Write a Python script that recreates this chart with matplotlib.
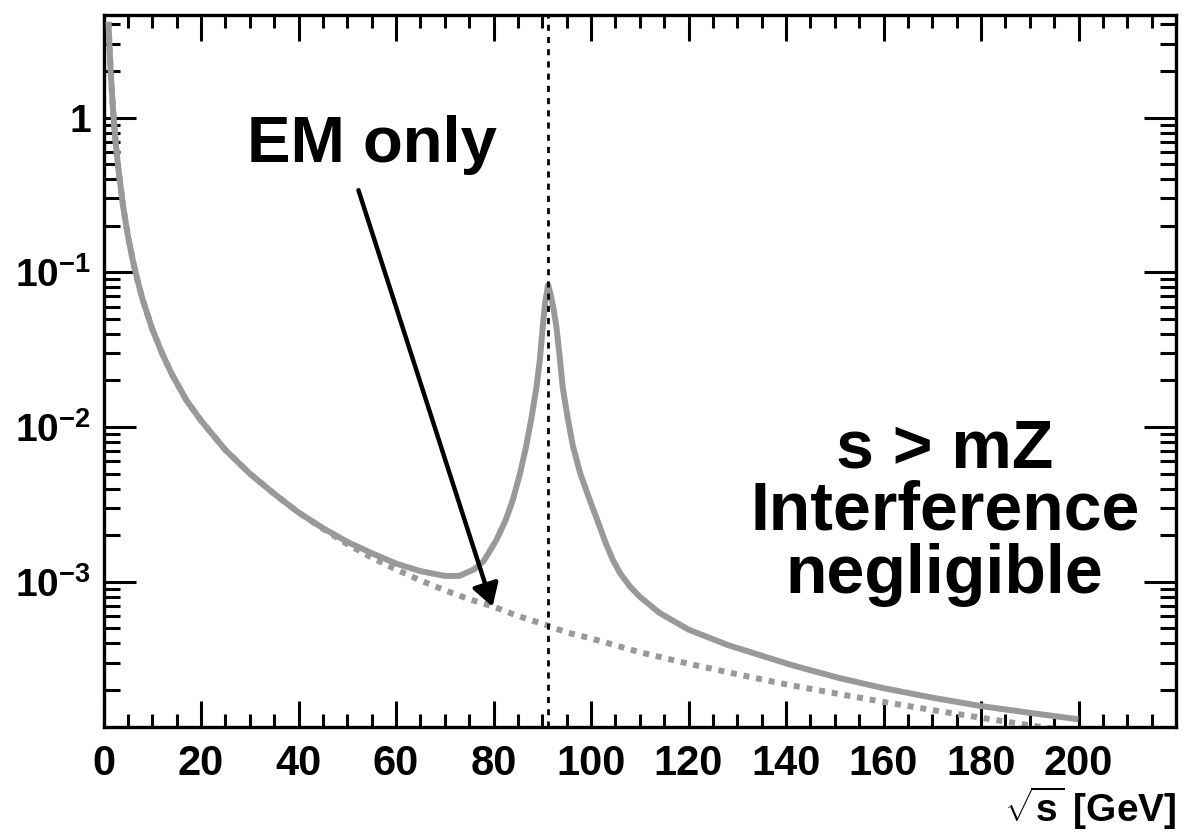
import matplotlib
matplotlib.use('Agg')
import matplotlib.pyplot as plt
from matplotlib import font_manager
from matplotlib.ticker import FixedLocator, FixedFormatter, NullFormatter

# ---------------- data ----------------
# full curve (EM + Z), sqrt(s) in GeV
full_x = [1.02, 1.2, 1.5, 2.0, 2.5, 3.0, 4.0, 5.0, 6.0, 7.0, 8.0, 10, 12, 14, 17, 20,
          25, 30, 35, 40, 45, 50, 55, 60, 65, 70, 73, 76, 78, 80.6, 82.5, 84,
          85.5, 86.7, 87.8, 88.8, 89.5, 90.1, 90.6, 91.2, 91.8, 92.4, 92.9, 93.5,
          94.2, 95.2, 96.3, 97.8, 99.7, 101.5, 103.1, 104.5, 106, 108, 110, 114,
          120, 128, 141, 151, 160, 170, 180, 190, 200]
full_y = [4.15, 3.0, 1.9, 1.07, 0.69, 0.48, 0.27, 0.172, 0.12, 0.088, 0.067, 0.043,
          0.030, 0.022, 0.0149, 0.011, 0.0071, 0.0050, 0.0037, 0.0028, 0.00222,
          0.00181, 0.00153, 0.00131, 0.00117, 0.00109, 0.00109, 0.0012, 0.00136,
          0.00186, 0.0025, 0.0034, 0.0051, 0.0075, 0.0115, 0.018, 0.027, 0.0445,
          0.064, 0.083, 0.070, 0.056, 0.0445, 0.030, 0.018, 0.0115, 0.0075,
          0.0050, 0.0034, 0.0024, 0.00175, 0.00138, 0.00113, 0.00093, 0.0008,
          0.00063, 0.00049, 0.00039, 0.00029, 0.000238, 0.000205, 0.000178,
          0.000157, 0.000142, 0.000129]

# EM only curve
em_x = [1.02, 1.2, 1.5, 2.0, 2.5, 3.0, 4.0, 5.0, 6.0, 7.0, 8.0, 10, 12, 14, 17, 20,
        25, 30, 35, 40, 45, 50, 55, 60, 65, 70, 75, 80, 85, 91.2, 95, 100, 110,
        120, 130, 140, 150, 160, 170, 180, 190, 195]
em_y = [4.15, 3.0, 1.9, 1.07, 0.69, 0.48, 0.27, 0.172, 0.12, 0.088, 0.067, 0.043,
        0.030, 0.022, 0.0149, 0.011, 0.0071, 0.0050, 0.0037, 0.0028, 0.0022,
        0.00175, 0.00143, 0.0012, 0.00102, 0.00088, 0.00077, 0.00069, 0.0006,
        0.00052, 0.00047, 0.00043, 0.00035, 0.000295, 0.000252, 0.000217,
        0.00019, 0.000167, 0.000148, 0.000132, 0.000118, 0.000112]

mz = 91.19
x_ticks = [0, 20, 40, 60, 80, 100, 120, 140, 160, 180, 200]
x_ticklabels = [str(v) for v in x_ticks]
y_ticks = [1e-3, 1e-2, 1e-1, 1]
y_ticklabels = [r'$10^{-3}$', r'$10^{-2}$', r'$10^{-1}$', '1']
arrow_from = (52.3, 0.339)
arrow_to = (79.8, 6.89e-4)

# ---------------- fonts ----------------
names = {f.name for f in font_manager.fontManager.ttflist}
NARROW = 'Liberation Sans Narrow' if 'Liberation Sans Narrow' in names else 'Liberation Sans'
WIDE = 'Liberation Sans'
plt.rcParams['font.family'] = [NARROW, 'DejaVu Sans']
plt.rcParams['font.weight'] = 'bold'
plt.rcParams['mathtext.fontset'] = 'custom'
plt.rcParams['mathtext.rm'] = NARROW + ':bold'
plt.rcParams['mathtext.bf'] = NARROW + ':bold'
plt.rcParams['mathtext.it'] = NARROW + ':bold'
plt.rcParams['mathtext.default'] = 'rm'

W, H = 1184, 832
fig = plt.figure(figsize=(W / 100, H / 100), dpi=100)
L, R, T, B = 103.5, 1176.0, 15.0, 727.0
ax = fig.add_axes([L / W, 1 - B / H, (R - L) / W, (B - T) / H])

gray = '#999999'
ax.plot(em_x, em_y, color=gray, lw=4.3, linestyle=(0, (1.0, 1.15)),
        dash_capstyle='butt', zorder=2)
ax.plot(full_x, full_y, color=gray, lw=4.3, solid_joinstyle='round',
        solid_capstyle='butt', zorder=3)
ax.axvline(mz, color='black', lw=2.0, linestyle=(0, (2.2, 2.2)), zorder=4)

ax.set_xlim(0, 220)
ax.set_yscale('log')
ax.set_ylim(1.15e-4, 4.6)

ax.xaxis.set_major_locator(FixedLocator(x_ticks))
ax.xaxis.set_major_formatter(FixedFormatter(x_ticklabels))
ax.xaxis.set_minor_locator(FixedLocator([v for v in range(0, 221, 5) if v % 20 != 0]))
ax.yaxis.set_major_locator(FixedLocator(y_ticks))
ax.yaxis.set_major_formatter(FixedFormatter(y_ticklabels))
minors = []
for d in [1e-4, 1e-3, 1e-2, 1e-1, 1]:
    for k in range(2, 10):
        minors.append(k * d)
ax.yaxis.set_minor_locator(FixedLocator(minors))
ax.yaxis.set_minor_formatter(NullFormatter())

for sp in ax.spines.values():
    sp.set_linewidth(2.4)
ax.tick_params(which='both', direction='in', top=True, right=True, width=2.2)
ax.xaxis.set_tick_params(which='major', length=18.4, pad=12, labelsize=30)
ax.xaxis.set_tick_params(which='minor', length=9.6)
ax.yaxis.set_tick_params(which='major', length=22.8, pad=9, labelsize=28)
ax.yaxis.set_tick_params(which='minor', length=11.5)

ax.annotate('', xy=arrow_to, xytext=arrow_from,
            arrowprops=dict(arrowstyle='-|>,head_length=0.45,head_width=0.27',
                            mutation_scale=30, lw=3.2, color='black',
                            shrinkA=0, shrinkB=0), zorder=5)

def fx(px):
    return px / W

def fy(py):
    return 1 - py / H

fig.text(fx(372), fy(162), 'EM only', family=WIDE, weight='bold', fontsize=47,
         ha='center', va='baseline')
fig.text(fx(945), fy(468), 's > mZ', family=WIDE, weight='bold', fontsize=49,
         ha='center', va='baseline')
fig.text(fx(945), fy(529), 'Interference', family=WIDE, weight='bold', fontsize=49,
         ha='center', va='baseline')
fig.text(fx(944), fy(593), 'negligible', family=WIDE, weight='bold', fontsize=49,
         ha='center', va='baseline')
fig.text(fx(1176), fy(822), r'$\sqrt{s}$ [GeV]', fontsize=28, ha='right',
         va='baseline')

fig.savefig('out.png', dpi=100, facecolor='white')
